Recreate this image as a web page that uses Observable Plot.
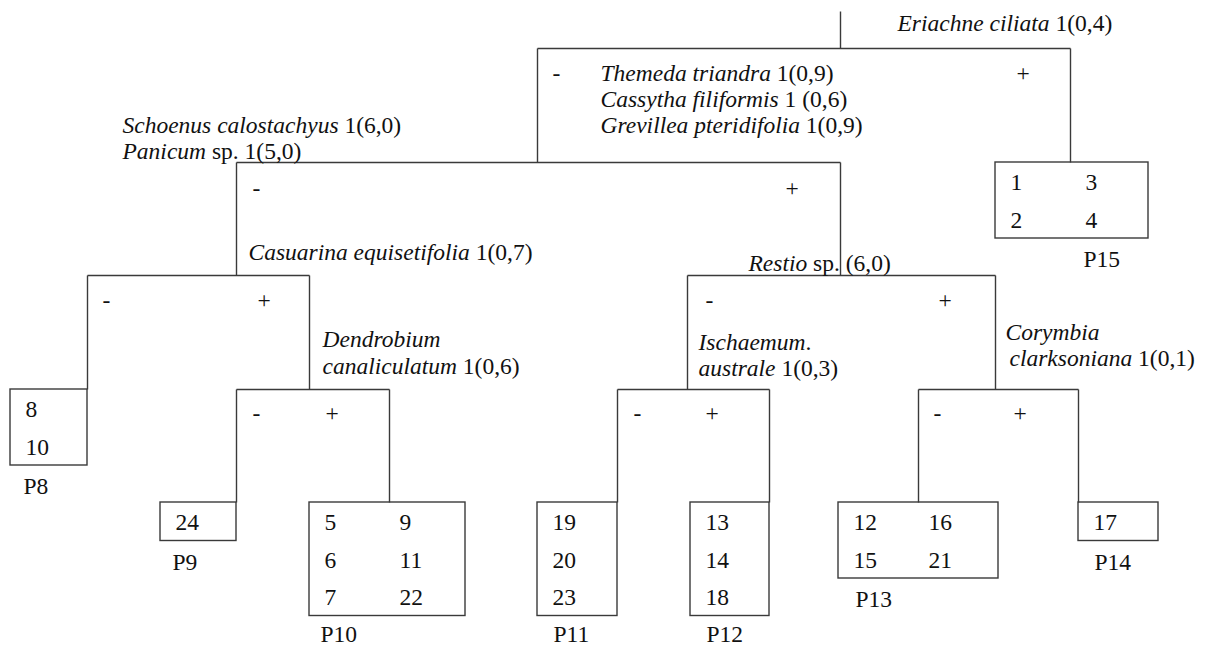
<!DOCTYPE html>
<html>
<head>
<meta charset="utf-8">
<script src="https://cdn.jsdelivr.net/npm/d3@7"></script>
<script src="https://cdn.jsdelivr.net/npm/@observablehq/plot@0.6"></script>
<style>
  html, body { margin: 0; padding: 0; background: #ffffff; }
  #chart { width: 1206px; height: 647px; }
</style>
</head>
<body>
<div id="chart"></div>
<script>
// ---------- DATA (diagram layout units) ----------
// Divisions of the TWINSPAN tree: stem, horizontal bar, two legs
const divisions = [
  {id: "D1", xStem: 840, yTop: 11,  y: 48,  xL: 537, xR: 1070, yL: 162, yR: 162},
  {id: "D2", xStem: 537, yTop: null, y: 162, xL: 236, xR: 840,  yL: 275, yR: 275},
  {id: "D3", xStem: 236, yTop: null, y: 275, xL: 87,  xR: 309,  yL: 389, yR: 389},
  {id: "D4", xStem: 309, yTop: null, y: 389, xL: 236, xR: 389,  yL: 502, yR: 502},
  {id: "D5", xStem: 840, yTop: null, y: 275, xL: 687, xR: 995,  yL: 389, yR: 389},
  {id: "D6", xStem: 687, yTop: null, y: 389, xL: 617, xR: 769,  yL: 502, yR: 502},
  {id: "D7", xStem: 995, yTop: null, y: 389, xL: 918, xR: 1078, yL: 502, yR: 502}
];

// negative / positive side of each division
const signs = [
  {s: "-", x: 552, y: 73},  {s: "+", x: 1016, y: 73},
  {s: "-", x: 252, y: 188}, {s: "+", x: 785, y: 188},
  {s: "-", x: 102, y: 300}, {s: "+", x: 257, y: 300},
  {s: "-", x: 705, y: 300}, {s: "+", x: 938, y: 300},
  {s: "-", x: 252, y: 413}, {s: "+", x: 325, y: 413},
  {s: "-", x: 633, y: 413}, {s: "+", x: 705, y: 413},
  {s: "-", x: 933, y: 413}, {s: "+", x: 1013, y: 413}
];

// indicator species: italic name + roman suffix
const indicatorNames = [
  "Eriachne ciliata", "Themeda triandra", "Cassytha filiformis", "Grevillea pteridifolia",
  "Schoenus calostachyus", "Panicum", "Casuarina equisetifolia", "Restio",
  "Dendrobium", "canaliculatum", "Ischaemum", "australe", "Corymbia", "clarksoniana"
];
const indicatorSuffix = [
  " 1(0,4)", " 1(0,9)", " 1 (0,6)", " 1(0,9)",
  " 1(6,0)", " sp. 1(5,0)", " 1(0,7)", " sp. (6,0)",
  "", " 1(0,6)", ".", " 1(0,3)", "", " 1(0,1)"
];
const indicatorX = [897, 600, 600, 600, 122, 122, 248, 748, 322, 322, 698, 698, 1005, 1009];
const indicatorY = [23, 73, 99, 125, 125, 151, 252, 263, 339, 366, 342, 368, 332, 358];

// final groups (end boxes) and their quadrats
const groupNames = ["P8", "P9", "P10", "P11", "P12", "P13", "P14", "P15"];
const groupMembers = [
  [[8, 10]],
  [[24]],
  [[5, 6, 7], [9, 11, 22]],
  [[19, 20, 23]],
  [[13, 14, 18]],
  [[12, 15], [16, 21]],
  [[17]],
  [[1, 2], [3, 4]]
];
const groupBoxX1 = [10, 160, 309, 537, 690, 838, 1078, 995];
const groupBoxX2 = [87, 236, 465, 617, 769, 998, 1158, 1148];
const groupBoxY1 = [389, 502, 502, 502, 502, 502, 502, 162];
const groupLabelX = [23, 172, 320, 553, 706, 855, 1094, 1083];

// ---------- derived tables ----------
const FONT = "'Liberation Serif', 'Times New Roman', Times, serif";
const FS = 23.5;
const ROW = 37.5;
const COLW = 75;
const PAD = 15;

const segs = [];
for (const d of divisions) {
  if (d.yTop != null) segs.push({x1: d.xStem, y1: d.yTop, x2: d.xStem, y2: d.y});
  segs.push({x1: d.xL, y1: d.y, x2: d.xR, y2: d.y});
  segs.push({x1: d.xL, y1: d.y, x2: d.xL, y2: d.yL});
  segs.push({x1: d.xR, y1: d.y, x2: d.xR, y2: d.yR});
}

const boxes = groupNames.map((g, i) => {
  const rows = d3.max(groupMembers[i], c => c.length);
  return {g, x1: groupBoxX1[i], x2: groupBoxX2[i], y1: groupBoxY1[i], y2: groupBoxY1[i] + rows * ROW + 1};
});
const cells = [];
groupMembers.forEach((cols, i) => {
  cols.forEach((col, c) => col.forEach((v, r) => {
    cells.push({t: String(v), x: groupBoxX1[i] + PAD + c * COLW, y: groupBoxY1[i] + ROW * (r + 0.5) + 1.5});
  }));
});
const groupLabels = groupNames.map((g, i) => ({t: g, x: groupLabelX[i], y: Math.min(boxes[i].y2 + 21, 634)}));

const ctx = document.createElement("canvas").getContext("2d");
ctx.font = `italic ${FS}px ${FONT}`;
const italicParts = indicatorNames.map((n, i) => ({t: n, x: indicatorX[i], y: indicatorY[i]}));
const romanParts = indicatorSuffix.map((s, i) => ({
  t: s, x: indicatorX[i] + ctx.measureText(indicatorNames[i]).width, y: indicatorY[i]
})).filter(d => d.t !== "");

const common = {fontFamily: FONT, fontSize: FS, fill: "#111", textAnchor: "start", lineAnchor: "middle"};

const chart = Plot.plot({
  width: 1206,
  height: 647,
  margin: 0,
  style: {background: "#ffffff", fontFamily: FONT},
  x: {domain: [0, 1206], range: [0, 1206], axis: null},
  y: {domain: [0, 647], range: [0, 647], axis: null},
  marks: [
    Plot.link(segs, {x1: "x1", y1: "y1", x2: "x2", y2: "y2", stroke: "#3a3a3a", strokeWidth: 1.4}),
    Plot.rect(boxes, {x1: "x1", x2: "x2", y1: "y1", y2: "y2", fill: "none", stroke: "#3a3a3a", strokeWidth: 1.4}),
    Plot.text(signs, {x: "x", y: "y", text: "s", ...common}),
    Plot.text(italicParts, {x: "x", y: "y", text: "t", ...common, fontStyle: "italic"}),
    Plot.text(romanParts, {x: "x", y: "y", text: "t", ...common}),
    Plot.text(cells, {x: "x", y: "y", text: "t", ...common}),
    Plot.text(groupLabels, {x: "x", y: "y", text: "t", ...common})
  ]
});
document.getElementById("chart").appendChild(chart);
</script>
</body>
</html>
